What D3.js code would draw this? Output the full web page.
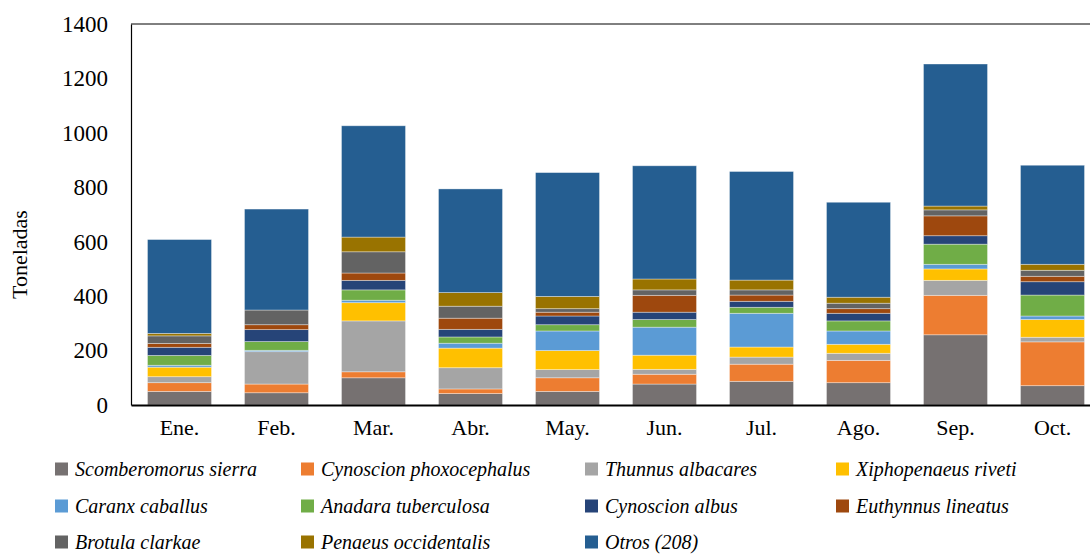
<!DOCTYPE html>
<html>
<head>
<meta charset="utf-8">
<script src="https://cdn.jsdelivr.net/npm/d3@7"></script>
<style>
  body { margin: 0; background: #fff; }
</style>
</head>
<body>
<div id="chart"></div>
<script>
// months on the x axis
var months = ["Ene.", "Feb.", "Mar.", "Abr.", "May.", "Jun.", "Jul.", "Ago.", "Sep.", "Oct."];

// species, in stacking order (bottom to top)
var species = ["Scomberomorus sierra", "Cynoscion phoxocephalus", "Thunnus albacares", "Xiphopenaeus riveti",
  "Caranx caballus", "Anadara tuberculosa", "Cynoscion albus", "Euthynnus lineatus",
  "Brotula clarkae", "Penaeus occidentalis", "Otros (208)"];

var colors = ["#767171", "#ED7D31", "#A5A5A5", "#FFC000", "#5B9BD5", "#70AD47",
  "#264478", "#9E480E", "#636363", "#997300", "#255E91"];

// toneladas per month for each species
var scomberomorus = [50, 45, 100, 42, 50, 77, 87, 82, 258, 71];
var phoxocephalus = [32, 32, 22, 17, 50, 36, 63, 82, 145, 161];
var thunnus       = [22, 119, 187, 78, 30, 18, 26, 26, 55, 17];
var xiphopenaeus  = [35, 0, 67, 72, 70, 52, 37, 33, 42, 65];
var caranx        = [7, 5, 9, 18, 72, 103, 124, 49, 17, 13];
var anadara       = [36, 32, 38, 23, 23, 28, 22, 37, 74, 77];
var albus         = [30, 44, 35, 28, 32, 27, 22, 28, 31, 49];
var euthynnus     = [14, 18, 27, 41, 14, 62, 23, 17, 73, 20];
var brotula       = [28, 54, 78, 44, 13, 20, 19, 20, 22, 22];
var penaeus       = [9, 0, 54, 50, 45, 40, 36, 22, 14, 22];
var otros         = [345, 371, 409, 381, 455, 416, 399, 349, 522, 364];

var yTicks = [0, 200, 400, 600, 800, 1000, 1200, 1400];

var series = [scomberomorus, phoxocephalus, thunnus, xiphopenaeus, caranx, anadara,
  albus, euthynnus, brotula, penaeus, otros];

// table for d3.stack
var table = months.map(function (m, i) {
  var row = { month: m };
  species.forEach(function (s, j) { row[s] = series[j][i]; });
  return row;
});

var FONT = "'Liberation Serif', 'Times New Roman', serif";
var W = 1090, H = 556;
var margin = { top: 24, left: 131, bottom: 151 };
var plotRight = 1101;

var svg = d3.select("#chart").append("svg")
  .attr("width", W)
  .attr("height", H);

var x = d3.scaleBand().domain(months).range([margin.left, plotRight]).paddingInner(0.34).paddingOuter(0.17);
var y = d3.scaleLinear().domain([0, 1400]).range([H - margin.bottom, margin.top]);

var color = d3.scaleOrdinal().domain(species).range(colors);

var stacked = d3.stack().keys(species)(table);

// bars
svg.append("g")
  .selectAll("g")
  .data(stacked)
  .enter()
  .append("g")
  .attr("fill", function (d) { return color(d.key); })
  .selectAll("rect")
  .data(function (d) { return d; })
  .enter()
  .append("rect")
  .attr("x", function (d) { return x(d.data.month); })
  .attr("y", function (d) { return y(d[1]); })
  .attr("width", x.bandwidth())
  .attr("height", function (d) { return y(d[0]) - y(d[1]); })
  .attr("stroke", "#ffffff")
  .attr("stroke-opacity", 0.45)
  .attr("stroke-width", 0.8);

// frame: top line
svg.append("line")
  .attr("x1", margin.left).attr("x2", plotRight)
  .attr("y1", y(1400)).attr("y2", y(1400))
  .attr("stroke", "#000").attr("stroke-width", 1);

// y axis
var yAxis = svg.append("g")
  .attr("transform", "translate(" + margin.left + ",0)")
  .call(d3.axisLeft(y).tickValues(yTicks).tickSize(0).tickPadding(23).tickFormat(d3.format("d")));
yAxis.attr("font-family", FONT).attr("font-size", 23);
yAxis.select(".domain").attr("stroke", "#000").attr("stroke-width", 1.2);
yAxis.selectAll("text")
  .attr("font-family", FONT)
  .style("font-family", FONT)
  .style("font-size", "23px")
  .attr("fill", "#000");

// x axis
var xAxis = svg.append("g")
  .attr("transform", "translate(0," + y(0) + ")")
  .call(d3.axisBottom(x).tickSize(0).tickPadding(14));
xAxis.attr("font-family", FONT).attr("font-size", 22);
xAxis.select(".domain").attr("stroke", "#000").attr("stroke-width", 2);
xAxis.selectAll("text")
  .attr("font-family", FONT)
  .style("font-family", FONT)
  .style("font-size", "22px")
  .attr("fill", "#000");

// y label
svg.append("text")
  .attr("transform", "translate(27," + ((y(0) + y(1400)) / 2 + 40) + ") rotate(-90)")
  .attr("text-anchor", "middle")
  .attr("font-family", FONT)
  .style("font-family", FONT)
  .style("font-size", "22px")
  .text("Toneladas");

// legend
var legendCols = [55, 301, 585, 836];
var legendRows = [469, 506, 542];

var legend = svg.append("g")
  .selectAll("g")
  .data(species)
  .enter()
  .append("g")
  .attr("transform", function (d, i) {
    return "translate(" + legendCols[i % 4] + "," + legendRows[Math.floor(i / 4)] + ")";
  });

legend.append("rect")
  .attr("x", 0).attr("y", -6.5)
  .attr("width", 13).attr("height", 13)
  .attr("fill", function (d) { return color(d); });

legend.append("text")
  .attr("x", 20)
  .attr("y", 7)
  .attr("font-family", FONT)
  .style("font-family", FONT)
  .style("font-size", "20px")
  .style("font-style", "italic")
  .text(function (d) { return d; });
</script>
</body>
</html>
